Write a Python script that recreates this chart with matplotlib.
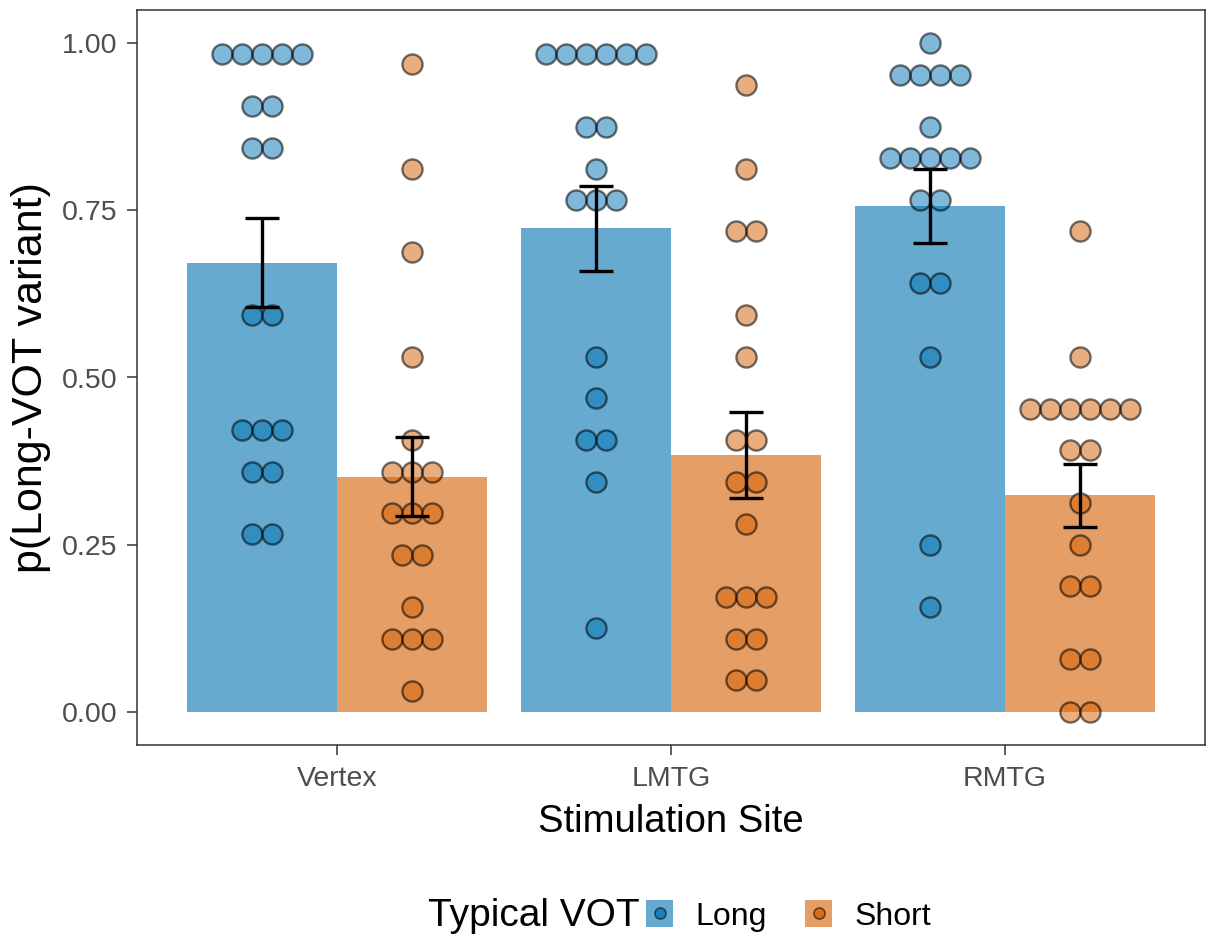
import matplotlib
matplotlib.use("Agg")
import matplotlib.pyplot as plt
from matplotlib.patches import Rectangle
from matplotlib.lines import Line2D
from matplotlib.legend_handler import HandlerTuple
import numpy as np
from collections import Counter

plt.rcParams['font.family'] = ['Liberation Sans', 'DejaVu Sans']

# ---------------- data ----------------
sites = ["Vertex", "LMTG", "RMTG"]
vot_groups = ["Long", "Short"]

# per-subject proportions (dot plot)
vertex_long = [0.984, 0.984, 0.984, 0.984, 0.984, 0.906, 0.906, 0.844, 0.844,
               0.594, 0.594, 0.422, 0.422, 0.422, 0.359, 0.359, 0.266, 0.266]
vertex_short = [0.969, 0.812, 0.688, 0.531, 0.406, 0.359, 0.359, 0.359, 0.297,
                0.297, 0.297, 0.234, 0.234, 0.156, 0.109, 0.109, 0.109, 0.031]
lmtg_long = [0.984, 0.984, 0.984, 0.984, 0.984, 0.984, 0.875, 0.875, 0.812,
             0.766, 0.766, 0.766, 0.531, 0.469, 0.406, 0.406, 0.344, 0.125]
lmtg_short = [0.938, 0.812, 0.719, 0.719, 0.594, 0.531, 0.406, 0.406, 0.344,
              0.344, 0.281, 0.172, 0.172, 0.172, 0.109, 0.109, 0.047, 0.047]
rmtg_long = [1.000, 0.953, 0.953, 0.953, 0.953, 0.875, 0.828, 0.828, 0.828,
             0.828, 0.828, 0.766, 0.766, 0.641, 0.641, 0.531, 0.250, 0.156]
rmtg_short = [0.719, 0.531, 0.453, 0.453, 0.453, 0.453, 0.453, 0.453, 0.391,
              0.391, 0.312, 0.250, 0.188, 0.188, 0.078, 0.078, 0.000, 0.000]

# bar means and error-bar limits (Long, Short) per site
mean_long = [0.672, 0.723, 0.756]
mean_short = [0.351, 0.384, 0.324]
err_lo_long = [0.606, 0.659, 0.701]
err_hi_long = [0.739, 0.787, 0.812]
err_lo_short = [0.292, 0.319, 0.277]
err_hi_short = [0.411, 0.449, 0.371]

# ---------------- style ----------------
col_long = "#0072B2"
col_short = "#D55E00"
bar_alpha = 0.6
dot_alpha = 0.5
bar_w = 0.45
dot_dx = 0.06   # horizontal spacing of stacked dots (data units)

fig = plt.figure(figsize=(12.07, 9.36), dpi=100)
ax = fig.add_axes([137/1207, 1 - 745/936, (1205-137)/1207, (745-10)/936])

x = np.arange(1, len(sites) + 1)
offsets = {"Long": -bar_w/2, "Short": bar_w/2}
colors = {"Long": col_long, "Short": col_short}
means = {"Long": mean_long, "Short": mean_short}
lo = {"Long": err_lo_long, "Short": err_lo_short}
hi = {"Long": err_hi_long, "Short": err_hi_short}
dots = {"Long": [vertex_long, lmtg_long, rmtg_long],
        "Short": [vertex_short, lmtg_short, rmtg_short]}

for g in vot_groups:
    ax.bar(x + offsets[g], means[g], width=bar_w, color=colors[g],
           alpha=bar_alpha, linewidth=0, zorder=1)

for g in vot_groups:
    for i, vals in enumerate(dots[g]):
        cnt = Counter(vals)
        xs, ys = [], []
        for v, n in cnt.items():
            for k in range(n):
                xs.append(x[i] + offsets[g] + (k - (n - 1) / 2) * dot_dx)
                ys.append(v)
        ax.scatter(xs, ys, s=210, facecolor=matplotlib.colors.to_rgba(colors[g], dot_alpha),
                   edgecolor=(0, 0, 0, 0.55), linewidth=1.7, zorder=2)

for g in vot_groups:
    m = np.array(means[g])
    yerr = np.vstack([m - np.array(lo[g]), np.array(hi[g]) - m])
    ax.errorbar(x + offsets[g], m, yerr=yerr, fmt="none", ecolor="black",
                elinewidth=2.4, capsize=12.2, capthick=2.4, zorder=3)

ax.set_xlim(0.4, 3.6)
ax.set_ylim(-0.05, 1.05)
ax.set_xticks(x)
ax.set_xticklabels(sites)
ax.set_yticks([0, 0.25, 0.5, 0.75, 1.0])
ax.set_yticklabels(["0.00", "0.25", "0.50", "0.75", "1.00"])
ax.tick_params(axis="both", labelsize=20.5, labelcolor="#4D4D4D", color="#333333",
               length=7, width=1.1)
ax.tick_params(axis="x", pad=8)
ax.tick_params(axis="y", pad=7)
for sp in ax.spines.values():
    sp.set_color("#333333")
    sp.set_linewidth(1.1)

ax.set_xlabel("Stimulation Site", fontsize=27.5, labelpad=9)
ax.set_ylabel("p(Long-VOT variant)", fontsize=31, labelpad=8)

# legend
handles = []
for g in vot_groups:
    patch = Rectangle((0, 0), 1, 1, facecolor=colors[g], alpha=bar_alpha, linewidth=0)
    pt = Line2D([], [], linestyle="none", marker="o", markersize=8,
                markerfacecolor=matplotlib.colors.to_rgba(colors[g], 0.75),
                markeredgecolor=(0, 0, 0, 0.55), markeredgewidth=1.2)
    handles.append((patch, pt))
fig.text(428/1207, 1 - 916/936, "Typical VOT", fontsize=28, ha="left", va="center")
fig.legend(handles, vot_groups, handler_map={tuple: HandlerTuple(ndivide=1, pad=0)},
           loc="center left", bbox_to_anchor=(646/1207, 1 - 916/936), ncol=2,
           frameon=False, fontsize=23, handlelength=0.85, handleheight=0.9,
           handletextpad=0.7, columnspacing=1.2, borderaxespad=0, borderpad=0)

fig.savefig("out.png", dpi=100)
